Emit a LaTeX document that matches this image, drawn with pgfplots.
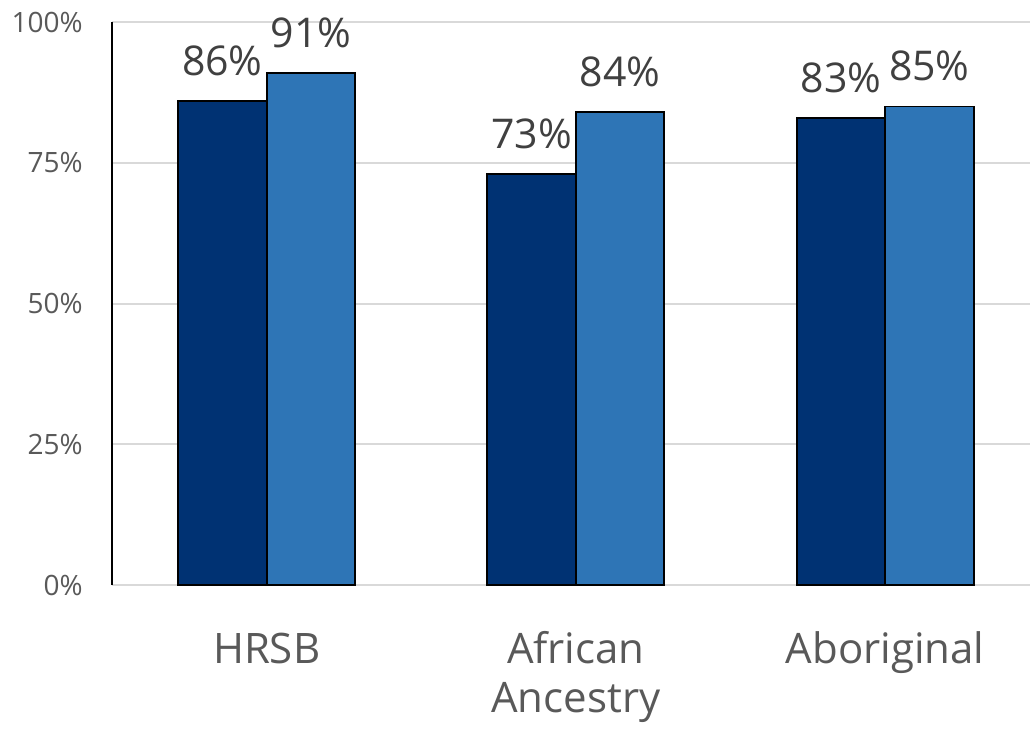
\documentclass[border=0pt]{standalone}
\usepackage{pgfplots}
\pgfplotsset{compat=1.18}
\usepackage{fontspec}
\setmainfont{Open Sans}
\definecolor{darkb}{HTML}{003273}
\definecolor{lightb}{HTML}{2E75B6}
\definecolor{tickgray}{HTML}{595959}
\definecolor{labgray}{HTML}{404040}
\definecolor{gridgray}{HTML}{D9D9D9}
\begin{document}
\begin{tikzpicture}
\useasboundingbox (-56pt,-72pt) rectangle (459pt,292.5pt);
\begin{axis}[
  name=ax, anchor=south west, at={(0,0)},
  scale only axis, width=459pt, height=281.5pt,
  xmin=-0.5, xmax=2.4685, ymin=0, ymax=100,
  ybar=0pt, bar width=44.25pt,
  axis x line*=bottom, axis y line*=left,
  x axis line style={gridgray, line width=1pt, -},
  y axis line style={black, line width=0.9pt, -},
  major tick length=0pt,
  ytick={0,25,50,75,100},
  yticklabel={\pgfmathprintnumber{\tick}\%},
  /pgf/number format/assume math mode=true,
  ymajorgrids, grid style={gridgray, line width=1pt},
  xtick={0,1,2},
  xticklabels={HRSB, {\vtop{\hbox to 0pt{\hss African\hss}\hbox to 0pt{\hss Ancestry\hss}}}, Aboriginal},
  xticklabel style={font=\fontsize{21}{24.5}\selectfont, text=tickgray, inner sep=0pt, anchor=base, yshift=-39pt},
  yticklabel style={font=\fontsize{14}{17}\selectfont, text=tickgray, inner sep=0pt, xshift=-14.5pt},
  nodes near coords={\pgfmathprintnumber{\pgfplotspointmeta}\%},
  nodes near coords style={font=\fontsize{20.5}{24}\selectfont, text=labgray, inner sep=0pt, anchor=base, yshift=12.8pt},
  every axis plot/.append style={draw=black, line width=0.9pt},
]
\addplot[fill=darkb] coordinates {(0,86) (1,73) (2,83)};
\addplot[fill=lightb] coordinates {(0,91) (1,84) (2,85)};
\end{axis}
\end{tikzpicture}
\end{document}
